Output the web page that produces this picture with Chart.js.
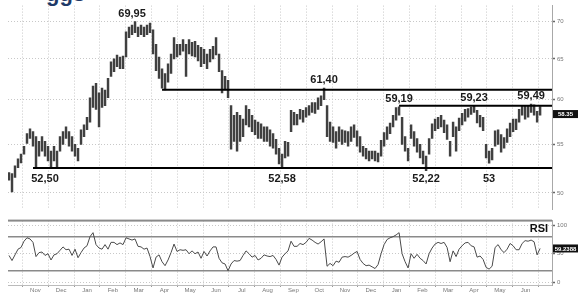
<!DOCTYPE html>
<html>
<head>
<meta charset="utf-8">
<script src="https://cdn.jsdelivr.net/npm/chart.js@4.4.1/dist/chart.umd.min.js"></script>
<style>
  html, body { margin: 0; padding: 0; background: #fff; }
  #wrap { position: relative; width: 578px; height: 293px; overflow: hidden; font-family: "Liberation Sans", Arial, sans-serif; }
  #title { position: absolute; left: 46px; top: -16px; font-size: 22px; line-height: 20px; font-weight: bold; color: #1f3a68; }
  #priceBox { position: absolute; left: 0; top: 0; width: 578px; height: 215px; }
  #rsiBox { position: absolute; left: 0; top: 215px; width: 578px; height: 78px; }
</style>
</head>
<body>
<div id="wrap">
  <div id="title">ggs</div>
  <div id="priceBox"><canvas id="priceChart"></canvas></div>
  <div id="rsiBox"><canvas id="rsiChart"></canvas></div>
</div>
<script>
// x is measured in months from 1 Oct of the first year; bar i sits at firstBar + i * barStep
const firstBar = 0.477;
const barStep = 0.1163;
const xMin = 0.438;
const xMax = 21.523;

const monthLabels = ['Nov', 'Dec', 'Jan', 'Feb', 'Mar', 'Apr', 'May', 'Jun', 'Jul', 'Aug',
    'Sep', 'Oct', 'Nov', 'Dec', 'Jan', 'Feb', 'Mar', 'Apr', 'May', 'Jun'];
const priceTicks = [50, 55, 60, 65, 70];
const rsiTicks = [0, 50, 100];
const rsiBands = [80, 20];

const highs = [
    52.03, 51.93, 52.73, 53.44, 53.95, 54.78, 56.15, 56.69, 56.37, 55.83,
    55.31, 55.83, 55.31, 54.78, 54.26, 54.78, 54.26, 55.83, 56.37, 56.90,
    56.37, 55.83, 54.99, 54.57, 56.58, 57.12, 57.99, 60.24, 61.63, 61.98,
    60.82, 61.39, 61.16, 62.57, 64.63, 65.00, 65.50, 65.25, 65.38, 68.55,
    69.20, 69.47, 69.95, 69.20, 69.47, 69.20, 69.47, 69.73, 68.81, 66.89,
    65.25, 63.77, 63.17, 64.39, 65.63, 67.78, 66.89, 66.89, 67.52, 66.89,
    67.52, 67.14, 67.27, 66.76, 66.51, 66.25, 65.63, 66.25, 66.63, 67.78,
    65.63, 63.53, 62.81, 62.33, 59.33, 58.21, 58.55, 58.21, 57.77, 59.33,
    58.88, 58.21, 57.66, 57.44, 57.23, 56.90, 56.90, 56.58, 56.15, 55.52,
    54.57, 53.95, 55.31, 55.20, 58.77, 58.55, 58.32, 58.88, 58.77, 59.10,
    59.33, 59.67, 59.67, 60.24, 60.47, 61.40, 59.33, 57.44, 56.90, 56.37,
    56.90, 56.58, 56.47, 56.37, 56.90, 57.12, 56.47, 55.83, 54.78, 54.57,
    54.26, 54.26, 54.26, 54.06, 55.41, 56.26, 56.90, 57.34, 58.21, 59.10,
    59.19, 57.99, 55.83, 54.57, 57.12, 56.37, 55.62, 54.99, 54.26, 53.74,
    55.62, 57.23, 57.77, 57.99, 58.21, 57.66, 57.12, 55.31, 57.44, 56.90,
    57.88, 58.43, 58.88, 58.99, 59.15, 59.23, 58.77, 58.21, 57.99, 54.99,
    54.26, 54.57, 56.47, 56.58, 56.04, 55.73, 56.69, 57.34, 57.77, 57.77,
    58.88, 59.35, 59.33, 59.33, 59.49, 59.40, 58.66, 59.20
];
const lows = [
    51.25, 50.10, 51.54, 52.53, 53.03, 53.95, 55.10, 55.62, 54.78, 52.50,
    53.74, 54.26, 53.74, 53.24, 52.53, 53.24, 52.53, 54.26, 54.99, 55.62,
    54.78, 54.26, 53.74, 53.24, 54.99, 55.83, 56.58, 57.44, 59.10, 58.88,
    56.90, 59.10, 59.33, 60.24, 62.81, 63.41, 64.02, 63.77, 63.77, 65.25,
    67.78, 68.17, 68.42, 67.91, 68.17, 67.91, 68.17, 68.42, 65.63, 63.53,
    62.57, 61.39, 61.16, 62.10, 63.17, 65.00, 65.25, 65.50, 66.00, 62.81,
    65.63, 65.38, 65.25, 64.76, 64.02, 64.39, 63.77, 64.63, 65.00, 65.50,
    63.41, 60.82, 61.16, 60.24, 54.47, 55.31, 54.26, 55.31, 55.83, 57.12,
    56.90, 56.37, 56.04, 55.62, 55.62, 55.31, 55.31, 54.78, 54.57, 53.95,
    52.93, 52.58, 53.54, 53.74, 56.37, 57.12, 57.12, 57.77, 57.44, 57.99,
    58.21, 58.55, 58.43, 58.88, 59.33, 60.01, 55.83, 55.31, 55.20, 54.57,
    55.31, 54.99, 55.20, 54.78, 55.31, 55.73, 54.78, 54.16, 53.74, 53.44,
    53.24, 53.44, 53.24, 53.13, 53.74, 54.78, 55.52, 56.15, 56.90, 57.66,
    58.21, 54.99, 54.26, 53.24, 55.62, 54.78, 54.16, 53.54, 52.93, 52.22,
    53.95, 55.62, 56.47, 56.69, 56.90, 56.26, 55.52, 53.74, 55.83, 54.26,
    56.47, 57.12, 57.55, 57.99, 58.32, 58.55, 57.34, 56.90, 56.47, 53.54,
    53.00, 53.34, 54.78, 54.99, 54.16, 54.57, 55.20, 55.83, 56.37, 56.58,
    57.44, 58.21, 57.77, 57.99, 58.55, 58.21, 57.44, 58.21
];
const rsi = [
    47, 38, 48, 58, 61, 72, 78, 76, 70, 45,
    52, 53, 47, 50, 39, 48, 50, 56, 62, 57,
    58, 47, 58, 43, 52, 60, 64, 80, 87, 66,
    60, 58, 66, 58, 70, 70, 66, 69, 66, 78,
    76, 74, 76, 63, 62, 58, 60, 45, 25, 44,
    48, 36, 29, 39, 52, 67, 54, 57, 56, 57,
    50, 55, 50, 53, 42, 54, 46, 55, 62, 62,
    42, 34, 32, 20, 32, 38, 37, 38, 47, 55,
    50, 44, 47, 39, 42, 48, 46, 45, 47, 40,
    30, 44, 50, 55, 72, 63, 63, 68, 66, 70,
    77, 74, 70, 67, 71, 76, 28, 33, 29, 37,
    35, 44, 45, 44, 47, 51, 54, 40, 33, 29,
    30, 27, 24, 31, 50, 66, 75, 78, 80, 83,
    87, 50, 36, 25, 50, 42, 49, 42, 38, 32,
    50, 60, 67, 70, 68, 70, 61, 36, 55, 45,
    58, 64, 69, 70, 64, 62, 44, 46, 40, 26,
    23, 28, 61, 66, 57, 52, 58, 68, 64, 57,
    57, 68, 73, 72, 74, 71, 48, 59.24
];
const lastPrice = 58.35;
const lastRsi = 59.2388;

// resistance / support lines and the bar where each one starts
const levels = [61.2, 59.3, 52.5];
const levelStart = [51, 130, 8];

const noteTexts = ['69,95', '61,40', '59,19', '59,23', '59,49', '52,50', '52,58', '52,22', '53'];
const noteValues = [69.95, 61.40, 59.19, 59.23, 59.49, 52.50, 52.58, 52.22, 53];
const noteBars = [41, 105, 130, 155, 174, 12, 91, 139, 160];
const noteKinds = ['top', 'top', 'top', 'top', 'top', 'bottom', 'bottom', 'bottom', 'bottom'];

const barX = i => firstBar + i * barStep;
const gridGrey = '#c8c8c8';
const tickFont = { size: 6, family: '"Liberation Sans", Arial, sans-serif' };

function valueBox(ctx, area, py, text) {
    ctx.fillStyle = '#111';
    ctx.fillRect(area.right + 1, py - 4, 25, 8);
    ctx.fillStyle = '#fff';
    ctx.font = 'bold 6px "Liberation Sans", Arial, sans-serif';
    ctx.textAlign = 'center';
    ctx.textBaseline = 'middle';
    ctx.fillText(text, area.right + 13.5, py + 0.5);
}

const priceNotes = {
    id: 'priceNotes',
    afterDatasetsDraw(chart) {
        const { ctx, chartArea, scales: { x, y } } = chart;
        ctx.save();
        ctx.font = 'bold 11px "Liberation Sans", Arial, sans-serif';
        ctx.fillStyle = '#1a1a1a';
        ctx.textAlign = 'center';
        ctx.textBaseline = 'middle';
        noteTexts.forEach((t, k) => {
            const px = x.getPixelForValue(barX(noteBars[k]));
            const py = noteKinds[k] === 'top'
                ? y.getPixelForValue(noteValues[k]) - 8
                : y.getPixelForValue(levels[2]) + 11;
            ctx.fillText(t, px, py);
        });
        valueBox(ctx, chartArea, y.getPixelForValue(lastPrice), lastPrice.toFixed(2));
        ctx.restore();
    }
};

const rsiNotes = {
    id: 'rsiNotes',
    afterDatasetsDraw(chart) {
        const { ctx, chartArea, scales: { y } } = chart;
        ctx.save();
        ctx.fillStyle = '#8a8a8a';
        ctx.fillRect(chartArea.left, chartArea.top - 1, chartArea.right - chartArea.left, 2);
        ctx.font = 'bold 11px "Liberation Sans", Arial, sans-serif';
        ctx.fillStyle = '#111';
        ctx.textAlign = 'center';
        ctx.textBaseline = 'middle';
        ctx.fillText('RSI', chartArea.right - 13, chartArea.top + 8);
        valueBox(ctx, chartArea, y.getPixelForValue(lastRsi), lastRsi.toFixed(4));
        ctx.restore();
    }
};

const monthBounds = monthLabels.map((m, k) => k + 1).concat([monthLabels.length + 1]);

new Chart(document.getElementById('priceChart'), {
    type: 'bar',
    data: {
        datasets: [
            {
                type: 'bar',
                data: highs.map((h, i) => ({ x: barX(i), y: [lows[i], h] })),
                backgroundColor: '#404040',
                barThickness: 1.8,
                grouped: false,
                order: 2
            },
            ...levels.map((v, k) => ({
                type: 'line',
                data: [{ x: barX(levelStart[k]), y: v }, { x: xMax, y: v }],
                borderColor: '#000',
                borderWidth: 2,
                pointRadius: 0,
                order: 1
            }))
        ]
    },
    options: {
        responsive: true,
        maintainAspectRatio: false,
        devicePixelRatio: 1,
        animation: false,
        events: [],
        layout: { padding: { left: 8, top: 5, right: 0, bottom: 0 } },
        plugins: { legend: { display: false }, tooltip: { enabled: false } },
        scales: {
            x: {
                type: 'linear',
                offset: false,
                min: xMin,
                max: xMax,
                afterBuildTicks: s => { s.ticks = monthBounds.map(v => ({ value: v })); },
                afterFit: s => { s.height = 0; },
                ticks: { display: false },
                grid: { color: gridGrey, lineWidth: 1, drawTicks: false, offset: false },
                border: { display: false, dash: [1, 2] }
            },
            y: {
                type: 'logarithmic',
                position: 'right',
                min: 48.41,
                max: 72.16,
                afterBuildTicks: s => { s.ticks = priceTicks.map(v => ({ value: v })); },
                afterFit: s => { s.width = 26; },
                ticks: { callback: v => String(v), font: tickFont, color: '#777', padding: 2 },
                grid: { color: gridGrey, tickColor: '#666', tickLength: 3, tickWidth: 1.5, tickBorderDash: [] },
                border: { display: true, color: '#a8a8a8', width: 1, dash: [1, 2] }
            }
        }
    },
    plugins: [priceNotes]
});

const rsiTicksX = [];
monthBounds.forEach(v => rsiTicksX.push({ value: v }));
monthLabels.forEach((m, k) => rsiTicksX.push({ value: k + 1.5 }));
rsiTicksX.sort((a, b) => a.value - b.value);

new Chart(document.getElementById('rsiChart'), {
    type: 'line',
    data: {
        datasets: [
            {
                data: rsi.map((v, i) => ({ x: barX(i), y: v })),
                borderColor: '#4a4a4a',
                borderWidth: 1,
                pointRadius: 0,
                tension: 0,
                order: 1
            },
            ...rsiBands.map(v => ({
                data: [{ x: xMin, y: v }, { x: xMax, y: v }],
                borderColor: '#8a8a8a',
                borderWidth: 1.5,
                pointRadius: 0,
                order: 2
            }))
        ]
    },
    options: {
        responsive: true,
        maintainAspectRatio: false,
        devicePixelRatio: 1,
        animation: false,
        events: [],
        layout: { padding: { left: 8, top: 1, right: 0, bottom: 0 } },
        plugins: { legend: { display: false }, tooltip: { enabled: false } },
        scales: {
            x: {
                type: 'linear',
                offset: false,
                min: xMin,
                max: xMax,
                afterBuildTicks: s => { s.ticks = rsiTicksX.slice(); },
                afterFit: s => { s.height = 8; },
                ticks: {
                    autoSkip: false,
                    maxRotation: 0,
                    padding: 0,
                    font: tickFont,
                    color: '#777',
                    callback: v => Number.isInteger(v) ? '' : monthLabels[Math.floor(v) - 1]
                },
                grid: {
                    color: c => Number.isInteger(c.tick.value) ? gridGrey : 'rgba(0,0,0,0)',
                    tickColor: c => Number.isInteger(c.tick.value) ? '#999' : 'rgba(0,0,0,0)',
                    tickLength: 2,
                    tickBorderDash: []
                },
                border: { display: true, color: '#bbb', width: 1, dash: [1, 2] }
            },
            y: {
                position: 'right',
                min: -4.92,
                max: 108.2,
                afterBuildTicks: s => { s.ticks = rsiTicks.map(v => ({ value: v })); },
                afterFit: s => { s.width = 26; },
                ticks: { font: tickFont, color: '#777', padding: 2 },
                grid: { color: gridGrey, tickColor: '#666', tickLength: 3, tickWidth: 1.5, tickBorderDash: [] },
                border: { display: true, color: '#a8a8a8', width: 1, dash: [1, 2] }
            }
        }
    },
    plugins: [rsiNotes]
});
</script>
</body>
</html>
